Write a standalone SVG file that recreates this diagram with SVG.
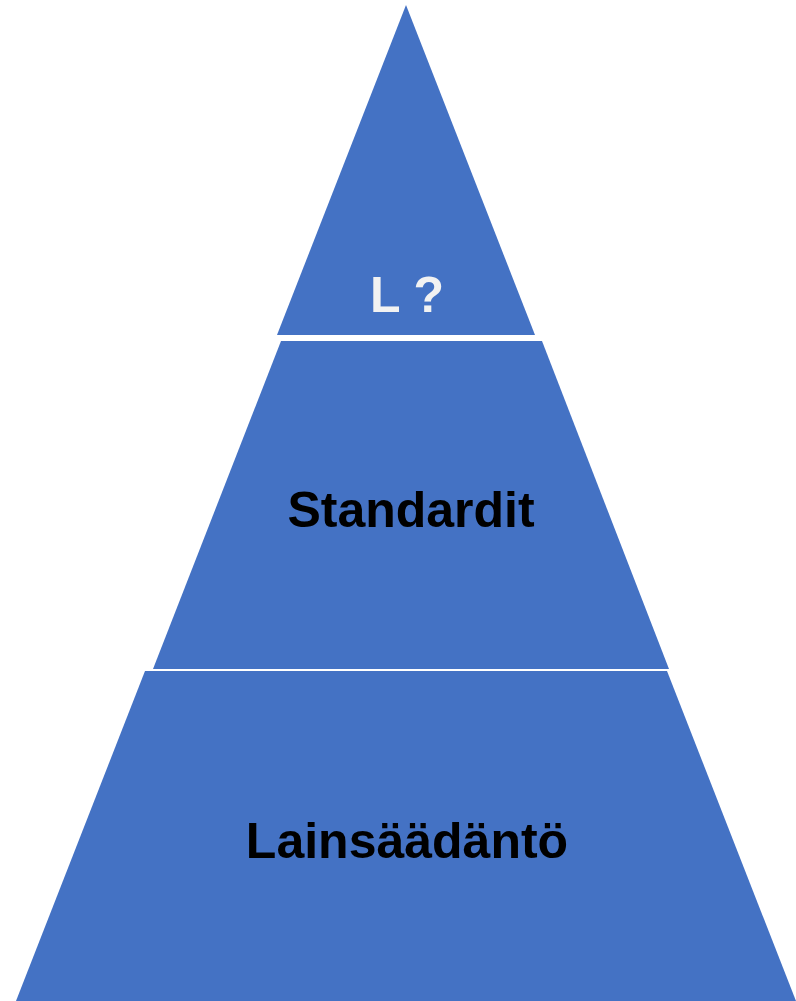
<svg xmlns="http://www.w3.org/2000/svg" width="796" height="1001" viewBox="0 0 796 1001">
<style>
.seg{fill:#4472C4}
.lbl{font-family:"Liberation Sans",Arial,sans-serif;font-weight:bold;font-size:50px;text-anchor:middle}
</style>
<rect width="796" height="1001" fill="#ffffff"/>
<g id="top">
<polygon class="seg" points="406,5 535,335 277,335"/>
<text class="lbl" x="407" y="312" fill="#F2F2F2" font-size="49">L ?</text>
</g>
<g id="middle">
<polygon class="seg" points="281,341 542,341 669,669 153,669"/>
<text class="lbl" x="411" y="527" fill="#000000">Standardit</text>
</g>
<g id="bottom">
<polygon class="seg" points="145,671 667,671 796,1001 16,1001"/>
<text class="lbl" x="407" y="858" fill="#000000">Lainsäädäntö</text>
</g>
<g id="connectors"></g>
</svg>
